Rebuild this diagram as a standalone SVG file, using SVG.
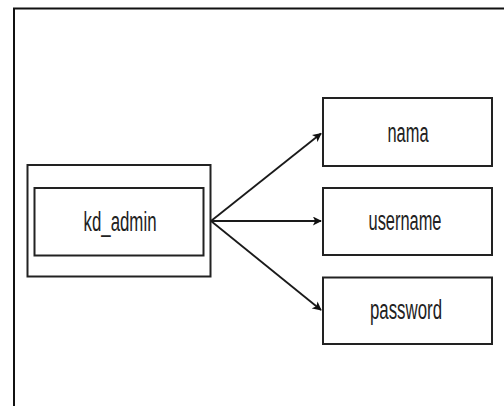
<svg xmlns="http://www.w3.org/2000/svg" width="504" height="406" viewBox="0 0 504 406">
  <defs>
    <style>
      .box { fill: #ffffff; stroke: #222222; stroke-width: 2; }
      .lbl { font-family: "Liberation Sans", Arial, sans-serif; font-size: 27px; fill: #222222; text-anchor: middle; }
      .conn { fill: none; stroke: #1a1a1a; stroke-width: 1.8; }
    </style>
    <marker id="arrow" viewBox="0 0 10 10" refX="9" refY="5" markerWidth="10" markerHeight="9" markerUnits="userSpaceOnUse" orient="auto">
      <path d="M0,0 L10,5 L0,10 L2.5,5 Z" fill="#111111"/>
    </marker>
  </defs>
  <rect x="0" y="0" width="504" height="406" fill="#ffffff"/>
  <g id="frame">
    <path d="M14,406 L14,8.5 L504,8.5" fill="none" stroke="#111111" stroke-width="2"/>
  </g>
  <g id="kd_admin">
    <rect class="box" x="27.5" y="165" width="183" height="111.5"/>
    <rect class="box" x="34.5" y="188" width="169" height="67.5"/>
    <text class="lbl" x="120" y="231" textLength="73" lengthAdjust="spacingAndGlyphs">kd_admin</text>
  </g>
  <g id="nama">
    <rect class="box" x="323" y="98" width="169" height="68"/>
    <text class="lbl" x="408" y="141.5" textLength="41" lengthAdjust="spacingAndGlyphs">nama</text>
  </g>
  <g id="username">
    <rect class="box" x="323" y="188" width="169" height="67"/>
    <text class="lbl" x="405" y="229.5" textLength="73" lengthAdjust="spacingAndGlyphs">username</text>
  </g>
  <g id="password">
    <rect class="box" x="323" y="277.5" width="169" height="66.5"/>
    <text class="lbl" x="406" y="318.5" textLength="72" lengthAdjust="spacingAndGlyphs">password</text>
  </g>
  <g id="connectors">
    <line class="conn" x1="211" y1="221" x2="321" y2="133.5" marker-end="url(#arrow)"/>
    <line class="conn" x1="211" y1="221" x2="321" y2="221" marker-end="url(#arrow)"/>
    <line class="conn" x1="211" y1="221" x2="321" y2="310" marker-end="url(#arrow)"/>
  </g>
</svg>
